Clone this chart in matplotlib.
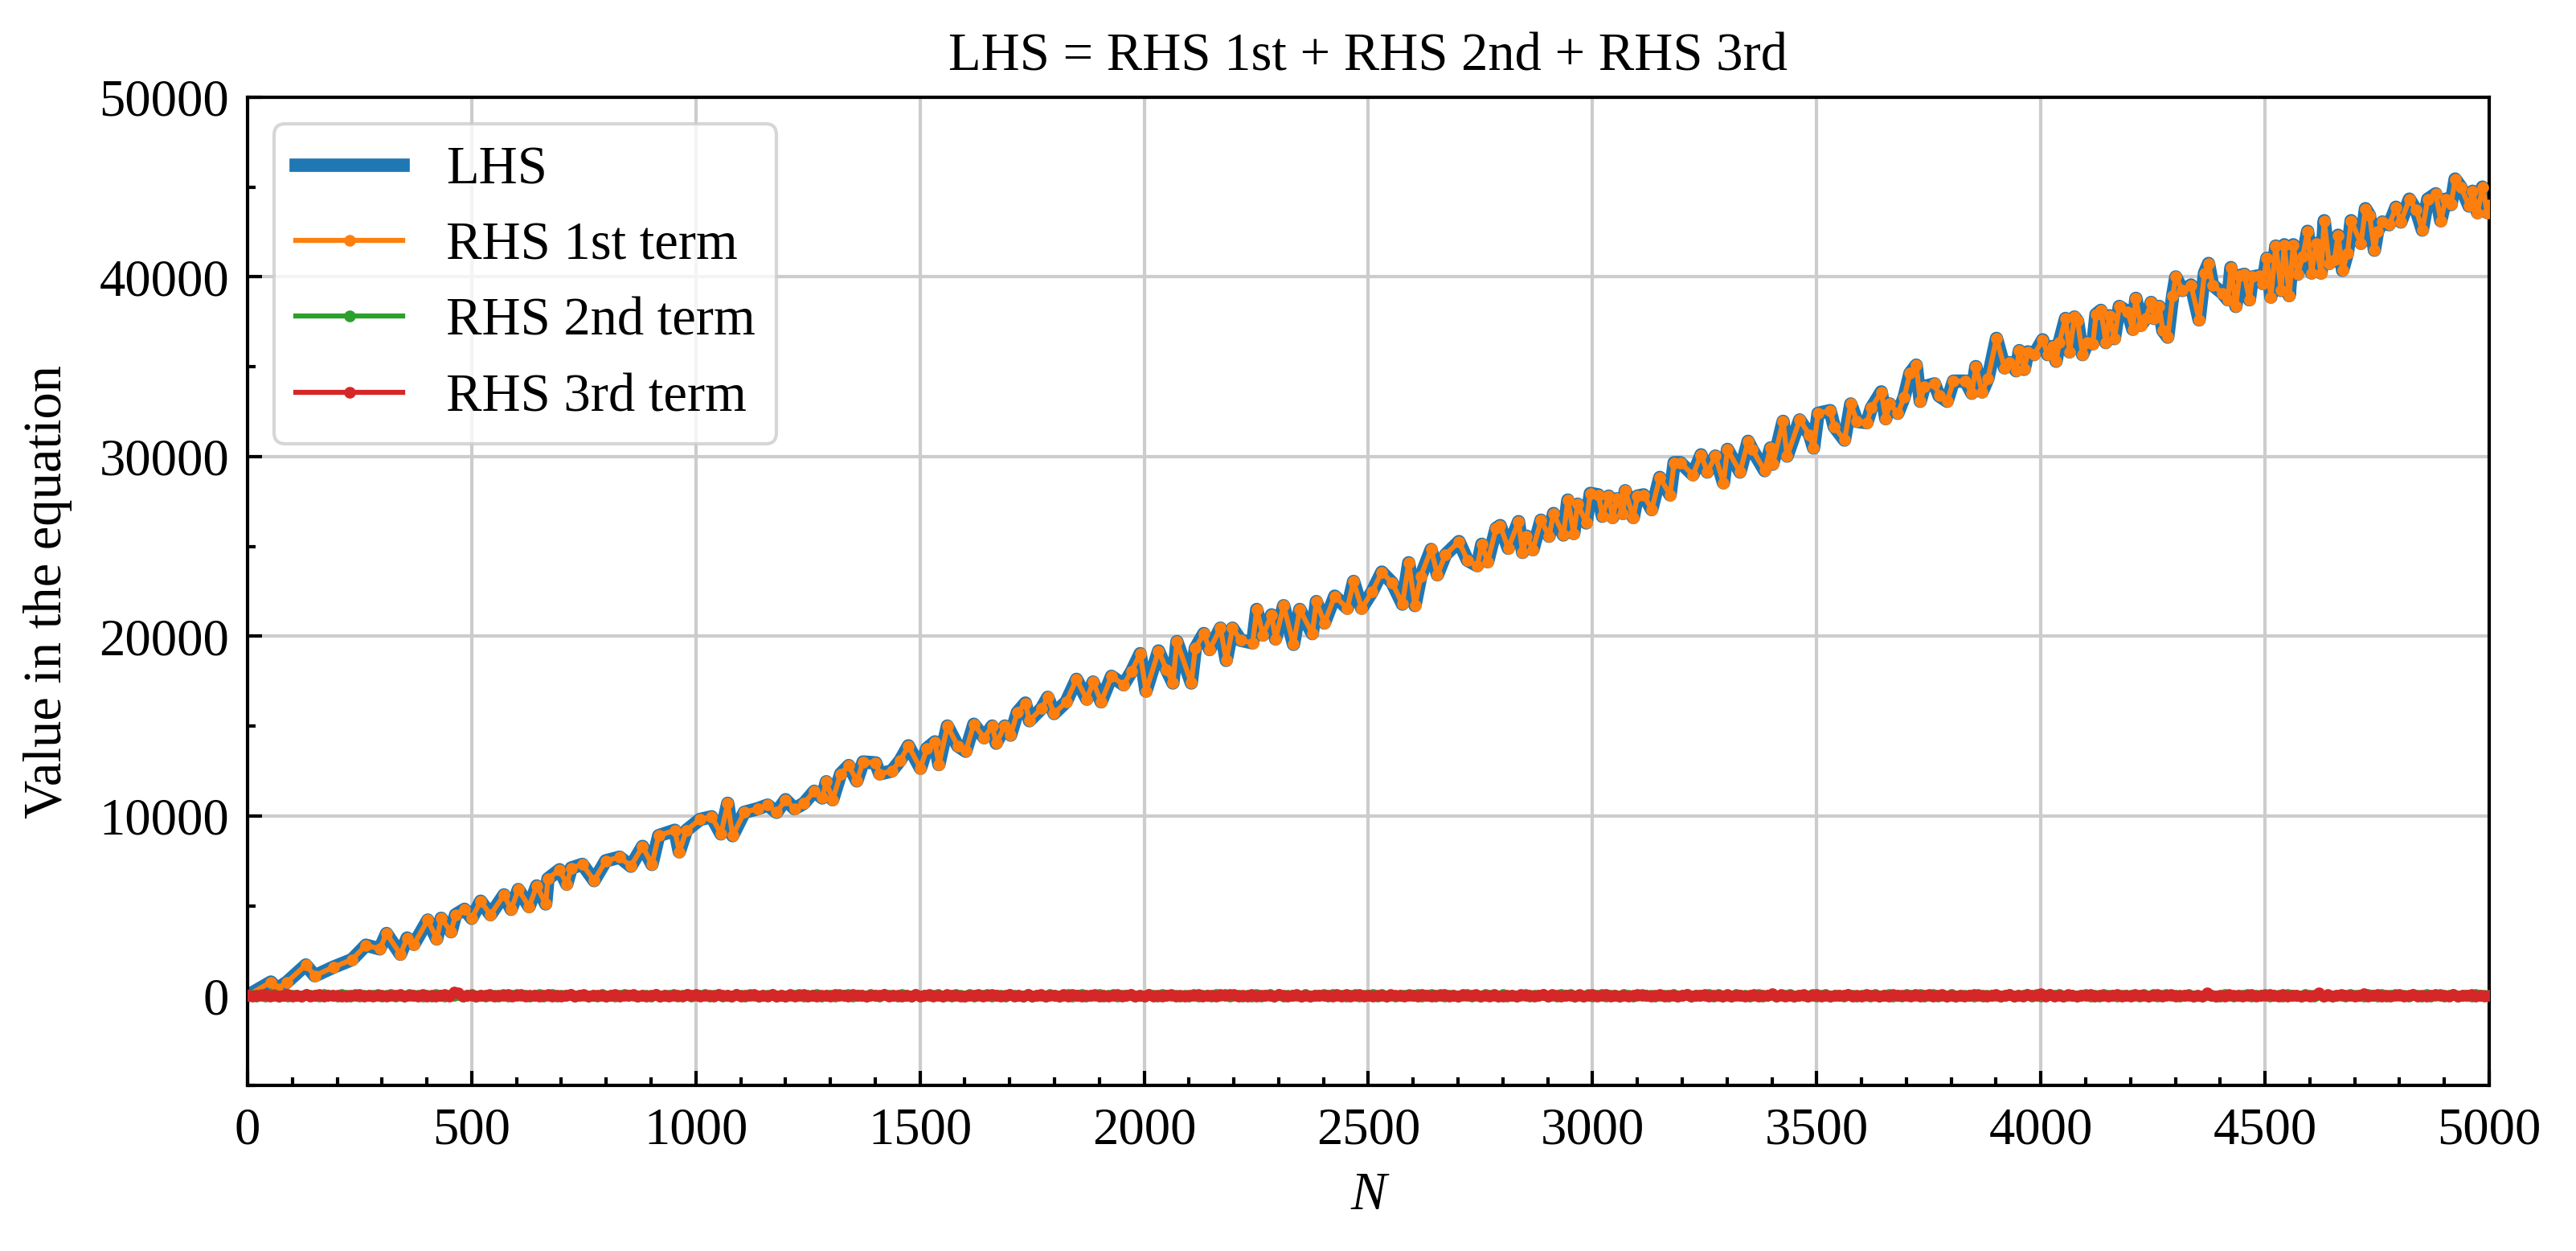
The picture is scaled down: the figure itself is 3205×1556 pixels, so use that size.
import numpy as np
import matplotlib
matplotlib.use("Agg")
import matplotlib.pyplot as plt
from matplotlib.ticker import MultipleLocator

# LHS (N, value)
n_lhs = [0, 52, 66, 88, 130, 150, 191, 233, 264, 295, 310, 341, 356, 371, 402, 422, 432, 454, 464, 484,
         500, 520, 542, 572, 588, 604, 628, 645, 665, 670, 696, 712, 722, 747, 773, 799, 830, 855, 881, 902,
         917, 953, 963, 979, 1009, 1035, 1056, 1071, 1082, 1108, 1138, 1160, 1180, 1200, 1220,
         1241, 1264, 1282, 1291, 1305, 1323, 1341, 1359, 1373, 1401, 1410, 1437, 1456, 1474, 1501, 1515,
         1533, 1542, 1561, 1584, 1602, 1620, 1643, 1661, 1670, 1689, 1702, 1717, 1735, 1744, 1771, 1785,
         1799, 1826, 1849, 1872, 1886, 1904, 1927, 1954, 1972, 1991, 2004, 2032, 2050, 2064, 2073, 2105,
         2114, 2133, 2146, 2170, 2183, 2197, 2215, 2242, 2251, 2265, 2284, 2293, 2311, 2333, 2347, 2375,
         2384, 2402, 2425, 2453, 2467, 2485, 2508, 2530, 2553, 2576, 2590, 2604, 2617, 2640, 2654, 2672,
         2702, 2721, 2743, 2753, 2766, 2785, 2794, 2812, 2835, 2844, 2853, 2867, 2885, 2903, 2913, 2935,
         2945, 2958, 2967, 2986, 2995, 3013, 3022, 3036, 3045, 3054, 3068, 3073, 3091, 3100, 3114, 3132,
         3150, 3173, 3182, 3196, 3224, 3242, 3256, 3274, 3292, 3301, 3329, 3347, 3356, 3384, 3397, 3402,
         3425, 3434, 3462, 3484, 3493, 3503, 3530, 3539, 3562, 3576, 3590, 3612, 3622, 3644, 3654, 3663,
         3681, 3695, 3708, 3722, 3731, 3740, 3763, 3773, 3791, 3805, 3832, 3846, 3855, 3869, 3882, 3901,
         3919, 3930, 3945, 3952, 3963, 3971, 3985, 4004, 4015, 4026, 4034, 4041, 4055, 4064, 4075, 4082,
         4093, 4104, 4116, 4123, 4134, 4145, 4153, 4164, 4175, 4194, 4205, 4212, 4223, 4234, 4246, 4253,
         4264, 4272, 4283, 4294, 4301, 4316, 4335, 4353, 4365, 4374, 4383, 4405, 4417, 4424, 4435, 4443,
         4454, 4465, 4472, 4487, 4495, 4504, 4513, 4524, 4536, 4543, 4554, 4563, 4573, 4584, 4595, 4604,
         4614, 4625, 4632, 4643, 4655, 4663, 4673, 4684, 4692, 4714, 4724, 4733, 4744, 4751, 4762, 4777,
         4792, 4803, 4822, 4837, 4851, 4863, 4881, 4892, 4903, 4915, 4924, 4937, 4955, 4963, 4974, 4985,
         4996, 5000]
lhs = [0, 750, 375, 750, 1700, 1100, 1575, 2000, 2800, 2600, 3450, 2300, 3200, 2850, 4200, 3150, 4300, 3550, 4500, 4800,
       4300, 5250, 4500, 5600, 4800, 5900, 4950, 6100, 5100, 6500, 7000, 6200, 7100, 7300, 6400, 7500, 7700, 7200, 8300, 7300,
       8900, 9200, 8000, 9200, 9800, 9950, 9000, 10700, 8900, 10200, 10400, 10600, 10200, 10900, 10400,
       10700, 11370, 11000, 11900, 10900, 12340, 12800, 11950, 13000, 12950, 12340, 12500, 13100, 13900, 12650, 13750,
       14120, 12860, 15000, 13900, 13600, 15100, 14350, 15000, 14050, 15000, 14500, 15760, 16280, 15300, 15980, 16600,
       15700, 16350, 17600, 16500, 17450, 16350, 17770, 17300, 18050, 19030, 16950, 19180, 18140, 17400, 19700, 17400,
       19330, 20150, 19260, 20450, 18660, 20450, 19780, 19630, 21490, 20070, 21190, 19850, 21700, 19550, 21490, 20150,
       21930, 20740, 22230, 21560, 23050, 21560, 22460, 23570, 22980, 21790, 24090, 21710, 23350, 24830, 23420, 24540,
       25270, 24230, 23930, 25120, 24150, 26010, 26160, 24900, 26380, 24670, 25570, 24820, 26460, 25570, 26830, 25640,
       27580, 25720, 27350, 26310, 27950, 27870, 26680, 27800, 26610, 27650, 26830, 28100, 26610, 27800, 27870, 27050,
       28840, 27870, 29660, 29660, 28990, 30100, 29140, 30030, 28540, 30400, 29140, 30850, 30400, 29220, 30480, 29580,
       31960, 30030, 32040, 31220, 30480, 32410, 32560, 31670, 30920, 32930, 31960, 31890, 32710, 33600, 32110, 32930,
       32410, 33300, 34640, 35090, 33080, 33900, 34050, 33380, 33080, 34200, 34200, 33530, 35010, 33600, 34350, 36580,
       34940, 35230, 34780, 35900, 34860, 35830, 35680, 36500, 35680, 36130, 35310, 36350, 37690, 35830, 37770, 37540,
       35680, 36350, 36280, 37920, 38140, 36350, 37840, 36570, 38360, 38060, 37090, 38810, 37310, 37690, 38580, 37690,
       38360, 37020, 36650, 38960, 40000, 39250, 39550, 37610, 40220, 40750, 39550, 39100, 38730, 40520, 38360, 40070,
       40150, 38730, 40000, 40070, 39630, 41040, 38880, 41720, 39250, 41790, 38960, 41790, 40150, 41120, 42540, 40220,
       41870, 40220, 43130, 40750, 40970, 42320, 40370, 41340, 43130, 41870, 43800, 43430, 41490, 42540, 43060, 42910,
       43880, 43060, 44330, 43730, 42610, 44330, 44630, 43130, 44330, 44030, 45450, 45000, 43950, 44770, 43580, 45000,
       43580, 44000]
# RHS 1st term lies on top of the LHS curve
rhs1 = list(lhs)

# RHS 2nd and 3rd terms: a thin band around zero, sampled every 10 in N
n_small = np.arange(0, 5001, 10)
rhs2 = [0, 20, -15, 35, -30, 10, 45, -20, 5, -40, 30, 15, -25, 40, -10, 25, -35, 50, -5, 20,
        -30, 45, 10, -20, 35, -45, 15, 30, -10, 55, -25, 5, 40, -35, 20, -15, 45, -5, 30, -40,
        15, -25, 50, 5, -35, 25, -10, 40, -30, 20, 35, -15, 10, -45, 30, 0, -20, 55, -25, 15,
        40, -10, 25, -40, 15, 50, -20, 5, 35, -30, 20, -5, 45, -25, 10, 30, -45, 20, -15, 35,
        -20, 30, -35, 15, 45, -10, 25, -50, 20, 5, -30, 40, -15, 30, -5, 50, -25, 10, 35, -20,
        25, -5, 40, -30, 10, 55, -15, 20, -40, 35, 0, -25, 45, 15, -35, 30, -10, 50, -20, 5,
        -35, 20, 10, 45, -25, 30, -5, 40, -45, 15, 25, -20, 55, -10, 35, -30, 5, 20, -15, 45,
        10, -40, 35, -5, 25, -30, 50, 0, -20, 40, -35, 15, 30, -10, 45, -25, 20, -45, 35, 5,
        -15, 50, -25, 20, 0, 35, -40, 25, 10, -30, 45, -5, 20, -35, 55, -15, 30, 5, -25, 40,
        20, -30, 5, 45, -20, 15, 35, -45, 30, -10, 50, -25, 0, 40, -30, 25, -5, 45, -40, 10,
        -45, 35, 15, -25, 50, -5, 20, 30, -35, 10, -15, 45, -30, 25, 5, -20, 40, -10, 55, -25,
        30, 5, -40, 25, -15, 45, -30, 10, 40, -20, 35, -45, 15, 0, 30, -35, 50, -15, 20, -5,
        35, -20, 45, -10, 30, -40, 5, 55, -25, 20, -5, 35, -30, 45, -15, 10, -40, 25, 0, 50,
        -10, 40, -30, 15, 35, -25, 50, -15, 5, 30, -45, 20, 40, -20, 10, -35, 45, -5, 25, -30,
        45, -15, 20, -35, 5, 40, -20, 30, -10, 50, -40, 15, -25, 35, 0, 45, -30, 10, -20, 55,
        -25, 10, 55, -20, 30, -5, -40, 35, 15, -30, 25, 45, -10, 20, -45, 30, 5, -25, 40, -15,
        5, 45, -35, 30, -10, 20, 40, -25, 50, -15, 10, -30, 35, -5, 25, -40, 20, 45, -20, 0,
        50, -25, 15, -5, 40, -35, 25, 10, -20, 45, -30, 5, 55, -15, 30, -10, -35, 40, 15, -25,
        -5, 30, -20, 45, -40, 10, 35, -15, 25, -45, 40, 20, -10, 50, -30, 15, 35, -20, 5, -35,
        35, -45, 25, 0, 20, -15, 45, -30, 10, 30, -5, -40, 25, 45, -20, 5, -10, 35, -35, 50,
        -40, 15, 40, -10, 55, -25, 5, 30, -35, 20, 45, -15, 10, -30, 40, -5, 25, -45, 30, 10,
        20, -10, -30, 50, -20, 35, -45, 15, 40, -5, 25, -35, 5, 45, -25, 30, -15, 55, -10, -30,
        -20, 55, 10, -35, 25, 0, 40, -25, 15, -10, 50, -40, 30, 10, -20, 45, -5, 20, -45, 35,
        15, -35, 45, -15, 30, -50, 20, 5, -25, 40, -10, 25, -30, 50, 0, -20, 35, -40, 15, 45,
        -10, 25, -45, 40, 5, -20, 55, -30, 20, 35, -15, -5, 45, -35, 10, 30, -25, 40, -10, 20,
        0]
rhs3 = [0, -25, 30, -10, 45, -35, 15, -45, 20, 35, -15, 5, -30, 40, -20, 10, 50, -40, 25, -5,
        30, -15, -40, 20, 5, 45, -25, 10, -35, 30, 15, -50, 25, -10, 40, -30, 20, 5, -20, 35,
        -20, 25, -45, 10, 35, -15, 180, 150, -30, 5, 20, -40, 30, -10, 45, -25, 15, -5, 40, -35,
        10, 40, -25, -5, 30, -45, 20, 50, -15, 5, -35, 25, 45, -20, 0, 35, -40, 15, -10, 30,
        -30, 20, 45, -35, 15, -5, 40, -20, 25, -45, 10, 55, -15, 30, -40, 5, 20, -25, 45, -10,
        40, -40, 5, 30, -20, 50, -10, 15, -45, 35, -25, 20, 0, 45, -35, 10, -15, 40, -30, 25,
        -15, 35, -30, 15, 45, -25, 5, -50, 30, 10, -20, 40, -5, 25, -40, 50, -10, 20, -35, 5,
        25, -5, 40, -35, 10, 30, -45, 20, -15, 55, -30, 15, 35, -20, 5, -40, 45, -10, 30, -25,
        -45, 30, -10, 45, -25, 15, 40, -5, -35, 20, 50, -20, 10, -30, 35, -15, 25, 45, -40, 0,
        15, -30, 50, -20, 35, -10, -40, 25, 5, 40, -25, 30, -45, 15, 55, -15, 0, 35, -30, 20,
        -25, 45, -15, 5, -35, 25, 40, -20, 30, -45, 15, -5, 50, -30, 20, 10, -40, 35, -10, 45,
        35, -20, 10, -40, 50, -25, 15, 30, -5, -35, 45, 20, -30, 5, 40, -15, 25, -45, 30, -10,
        -5, 25, -35, 40, -15, 55, -30, 10, 35, -20, 5, -45, 30, 15, -25, 45, -10, 20, -40, 30,
        20, -45, 35, 10, -20, 30, -5, 45, -35, 15, -25, 40, -10, 25, 50, -30, 5, -15, 35, -40,
        -35, 10, 25, -30, 45, -10, 20, -40, 15, 50, -20, 35, -5, -45, 30, 5, -25, 40, -15, 25,
        45, -20, 5, 35, -40, 20, -15, 30, -30, 10, 40, -5, 25, -35, 15, 45, -25, 0, 30, -45,
        -10, 35, -25, 15, -10, 45, -35, 25, 5, -20, 50, -40, 10, 30, -15, -5, 40, -30, 20, 10,
        80, -30, 40, -15, 25, -45, 10, 35, -20, 5, 45, -25, 20, -40, 30, -5, 15, 50, -35, 10,
        -20, 45, -5, 30, -35, 15, -45, 40, 20, -10, 25, -30, 55, -15, 5, 35, -40, 10, 45, -25,
        10, -20, 30, -35, 15, 45, -10, 25, -40, 5, 35, -25, 20, 50, -15, 10, -30, 40, 25, -5,
        90, -15, 35, -30, 20, -45, 40, 5, -20, 30, -10, 45, -35, 15, 25, -40, 10, 50, -25, 0,
        -30, 40, -10, 25, -45, 15, 35, -20, 5, 45, -35, 20, -5, 30, -25, 10, -40, 140, 15, -15,
        25, -35, 45, -5, 20, -30, 10, 40, -45, 15, -10, 35, 25, -20, 50, -40, 5, 30, -15, 20,
        -20, 10, 130, -25, 35, -40, 15, 45, -10, 25, -30, 5, 120, -35, 20, 40, -15, 30, -45, 10,
        35, -25, 5, 40, -20, 30, -40, 15, 45, -10, 20, -35, 50, -15, 25, -5, 35, -30, 10, -20,
        5]

plt.rcParams['font.family'] = ['Liberation Serif', 'DejaVu Serif']
plt.rcParams['font.size'] = 16

fig = plt.figure(figsize=(3205 / 300, 1556 / 300), dpi=300)
ax = fig.add_axes([0.0961, 0.1324, 0.8702, 0.7898])

ax.plot(n_lhs, lhs, color='tab:blue', lw=4, label='LHS', zorder=2)
ax.plot(n_lhs, rhs1, color='tab:orange', lw=1.5, marker='o', ms=2.5, label='RHS 1st term', zorder=3)
ax.plot(n_small, rhs2, color='tab:green', lw=1.5, marker='o', ms=2.5, label='RHS 2nd term', zorder=4)
ax.plot(n_small, rhs3, color='tab:red', lw=1.5, marker='o', ms=2.5, label='RHS 3rd term', zorder=5)

ax.set_xlim(0, 5000)
ax.set_ylim(-5000, 50000)
ax.xaxis.set_major_locator(MultipleLocator(500))
ax.xaxis.set_minor_locator(MultipleLocator(100))
ax.yaxis.set_major_locator(MultipleLocator(10000))
ax.yaxis.set_minor_locator(MultipleLocator(5000))
ax.tick_params(which='both', direction='in', width=1, labelsize=15.5)
ax.tick_params(which='major', length=4.4)
ax.tick_params(which='minor', length=2.4)
ax.tick_params(axis='x', which='both', pad=6.5)
ax.tick_params(axis='y', which='both', pad=5.5)
for s in ax.spines.values():
    s.set_linewidth(1.0)

ax.grid(True, color='#cccccc', lw=1)
ax.set_xlabel('N', fontstyle='italic', labelpad=5)
ax.set_ylabel('Value in the equation', labelpad=8)
ax.set_title('LHS = RHS 1st + RHS 2nd + RHS 3rd', fontsize=16, pad=8)
ax.legend(loc='upper left', fontsize=16)

fig.savefig('out.png', dpi=300)
